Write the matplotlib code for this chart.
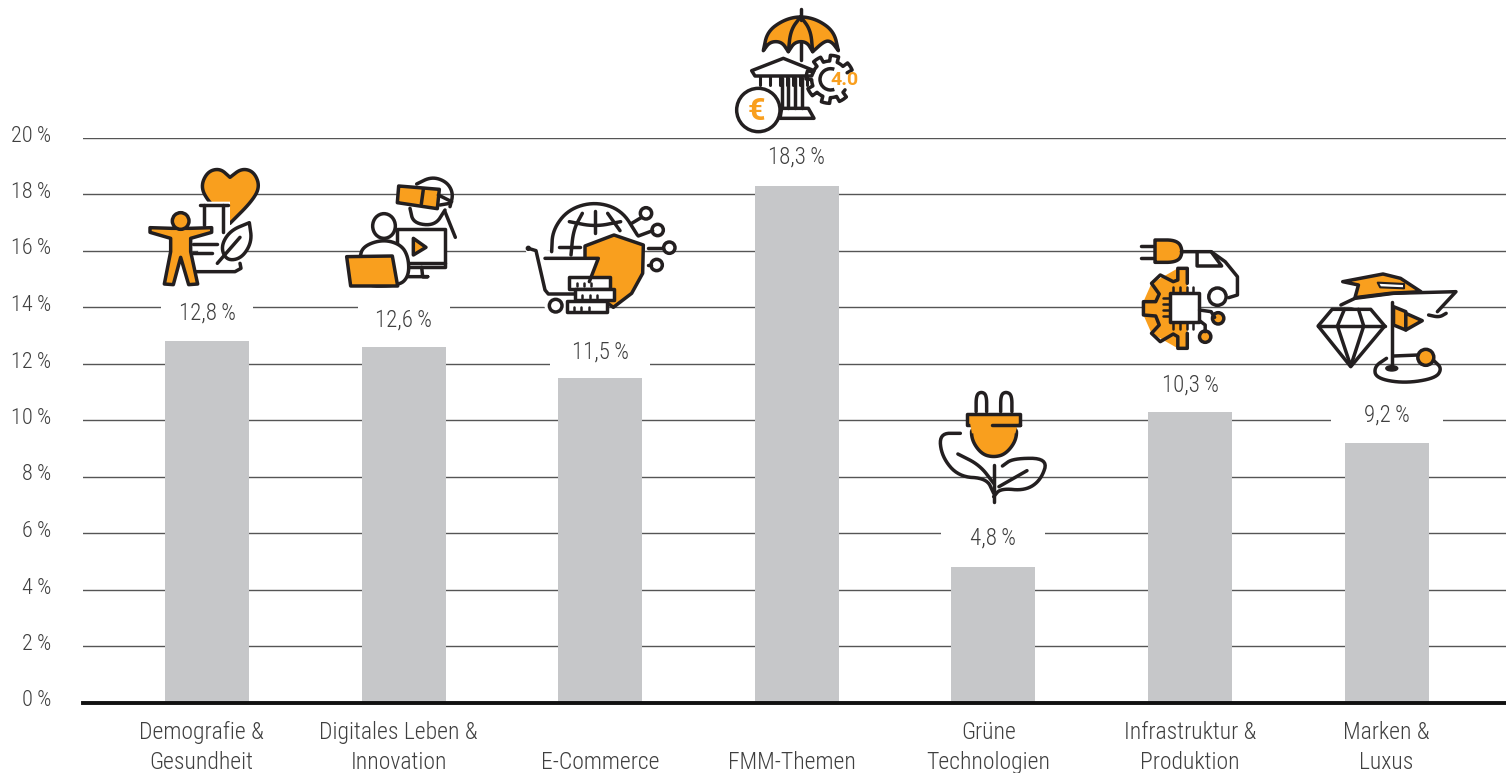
import numpy as np
import matplotlib
matplotlib.use("Agg")
import matplotlib.pyplot as plt
from matplotlib.patches import Polygon, Circle, Ellipse, Rectangle, Arc
from matplotlib.transforms import ScaledTranslation

categories = ["Demografie &\nGesundheit", "Digitales Leben &\nInnovation", "\nE-Commerce", "\nFMM-Themen",
              "Grüne\nTechnologien", "Infrastruktur &\nProduktion", "Marken &\nLuxus"]
values = [12.8, 12.6, 11.5, 18.3, 4.8, 10.3, 9.2]
value_labels = ["12,8\u2009%", "12,6\u2009%", "11,5\u2009%", "18,3\u2009%", "4,8\u2009%", "10,3\u2009%", "9,2\u2009%"]
y_ticks = [0, 2, 4, 6, 8, 10, 12, 14, 16, 18, 20]
y_tick_labels = [f"{t}\u2009%" for t in y_ticks]
label_shift = [0, -1, -2, 0, 1, -2, 0]   # px shift of the value labels
category_shift = [-6, -5, 0, -5, -5, 0, 0]   # px shift of the category labels
knockout_width = [92, 92, 100, 0, 104, 0, 112]

W, H = 1506, 773
STEP = 196.6
plt.rcParams["font.family"] = ["Roboto Condensed", "Roboto", "DejaVu Sans"]
plt.rcParams["font.weight"] = 300
TXT = "#3f3f3f"; DARK = "#231f20"; OR = "#f99f1e"; BAR = "#c6c7c9"; GRID = "#555555"

fig = plt.figure(figsize=(W / 100, H / 100), dpi=100)
ax = fig.add_axes([83 / W, 1 - 702.5 / H, (W - 83) / W, (702.5 - 137.5) / H])
ax.set_xlim(-124 / STEP, (W - 207) / STEP)
ax.set_ylim(0, 20)
ax.bar(range(len(values)), values, width=84 / STEP, color=BAR, zorder=3)
for s in ("top", "right", "left"):
    ax.spines[s].set_visible(False)
ax.spines["bottom"].set_linewidth(2.8)
ax.spines["bottom"].set_color("#111111")
ax.spines["bottom"].set_zorder(5)
ax.set_yticks(y_ticks, y_tick_labels, fontsize=16, color=TXT)
ax.set_xticks(range(len(values)), categories, fontsize=17, color=TXT, linespacing=1.42)
ax.tick_params(axis="both", length=0)
ax.tick_params(axis="y", pad=23)
ax.tick_params(axis="x", pad=13)
ax.grid(axis="y", color=GRID, lw=1.0, zorder=1)
ax.set_axisbelow(True)
for lab in ax.get_yticklabels():
    lab.set_transform(lab.get_transform() + ScaledTranslation(0, 4 / 100, fig.dpi_scale_trans))
for lab, sh in zip(ax.get_xticklabels(), category_shift):
    lab.set_transform(lab.get_transform() + ScaledTranslation(sh / 100, 0, fig.dpi_scale_trans))

# pixel overlay for the pictograms
ov = fig.add_axes([0, 0, 1, 1], facecolor="none")
ov.set_xlim(0, W); ov.set_ylim(H, 0); ov.axis("off")
ax.set_zorder(1); ov.set_zorder(2)


def smooth(pts, closed=False, n=3):
    p = np.asarray(pts, float)
    for _ in range(n):
        if closed:
            q = np.roll(p, -1, axis=0)
            p = np.column_stack([0.75 * p + 0.25 * q, 0.25 * p + 0.75 * q]).reshape(-1, 2)
        else:
            a, b = p[:-1], p[1:]
            mid = np.column_stack([0.75 * a + 0.25 * b, 0.25 * a + 0.75 * b]).reshape(-1, 2)
            p = np.vstack([p[0], mid, p[-1]])
    return p


class Z:
    """Draw in the coordinates of a zoomed crop."""
    def __init__(s, x0, y0, k=3.0, ky=3.0):
        s.x0, s.y0, s.k, s.ky = x0, y0, k, ky
    def T(s, pts):
        p = np.asarray(pts, float)
        return np.column_stack([s.x0 + p[:, 0] / s.k, s.y0 + p[:, 1] / s.ky])
    def shape(s, pts, fill="white", sm=False, lw=2.5):
        p = smooth(pts, True) if sm else pts
        ov.add_patch(Polygon(s.T(p), closed=True, fc=fill, ec=DARK, lw=lw, joinstyle="round"))
    def nofill(s, pts, fill, sm=False):
        p = smooth(pts, True) if sm else pts
        ov.add_patch(Polygon(s.T(p), closed=True, fc=fill, ec="none"))
    def line(s, pts, sm=False, lw=2.5, c=DARK):
        p = smooth(pts) if sm else pts
        q = s.T(p)
        ov.plot(q[:, 0], q[:, 1], color=c, lw=lw, solid_capstyle="round", solid_joinstyle="round")
    def circ(s, x, y, r, fill="white", lw=2.5):
        ov.add_patch(Circle((s.x0 + x / s.k, s.y0 + y / s.ky), r / s.ky, fc=fill, ec=DARK, lw=lw))
    def ell(s, x, y, rx, ry, fill="white", lw=2.5):
        ov.add_patch(Ellipse((s.x0 + x / s.k, s.y0 + y / s.ky), 2 * rx / s.k, 2 * ry / s.ky, fc=fill, ec=DARK, lw=lw))


# knock-outs around value labels, then the labels themselves
for i, (v, lab, sh, kw) in enumerate(zip(values, value_labels, label_shift, knockout_width)):
    ax.annotate(lab, (i, v), xytext=(0, (28 + sh) * 0.72), textcoords="offset points",
                ha="center", va="center", fontsize=16.5, color=TXT, zorder=6, annotation_clip=False)
    if kw:
        cy = 702.5 - v * 28.25 - 28 - sh
        ax.add_patch(Rectangle((207 + STEP * i - kw / 2, cy - 16), kw, 32, fc="white", ec="none", zorder=2,
                               transform=ov.transData, clip_on=False))

# ---- Demografie
a = Z(130, 160)
a.shape([(300, 190), (300, 190), (235, 125), (212, 80), (232, 35), (270, 25), (300, 52), (300, 52), (300, 52), (335, 25), (372, 35), (390, 80), (365, 125)], OR, True)
a.nofill([(205, 125), (300, 125), (300, 200), (345, 340), (195, 340), (215, 200)], "white")
a.line([(210, 135), (295, 135)])
a.line([(222, 135), (222, 195)]); a.line([(278, 135), (278, 215)])
a.line([(190, 252), (262, 252)]); a.line([(190, 280), (245, 280)])
a.line([(200, 335), (315, 335), (333, 325), (330, 310)])
a.shape([(358, 188), (358, 188), (300, 212), (272, 260), (290, 302), (335, 295), (366, 245)], "white", True)
a.line([(262, 310), (330, 232)])
a.shape([(60, 203), (125, 205), (180, 205), (245, 203), (245, 217), (182, 235), (182, 275), (203, 372), (176, 374),
         (152, 292), (130, 374), (103, 372), (122, 275), (122, 235), (60, 217)], OR)
a.circ(152, 183, 25, OR)

# ---- Digitales Leben
a.line([(860, 72), (905, 50), (950, 65), (970, 100), (960, 140)], True)
a.line([(945, 155), (976, 232)])
a.line([(840, 145), (850, 190), (915, 197), (945, 150)], True)
a.line([(925, 105), (965, 125)]); a.line([(930, 135), (960, 130)])
a.shape([(806, 78), (806, 78), (928, 88), (928, 88), (922, 146), (922, 146), (802, 128), (802, 128)], OR, True)
a.line([(880, 88), (874, 132)])
a.shape([(800, 207), (945, 207), (945, 320), (800, 320)], "white")
a.line([(840, 308), (945, 308)])
a.line([(875, 322), (878, 350), (893, 350), (835, 350)])
a.shape([(850, 235), (888, 262), (850, 285)], OR)
a.shape([(688, 295), (700, 258), (760, 238), (815, 255), (836, 295), (836, 350), (805, 378), (690, 378)], "white", True)
a.ell(762, 198, 34, 37)
a.shape([(650, 290), (787, 288), (803, 378), (662, 378)], OR)

# ---- E-Commerce
b = Z(510, 0)
b.nofill([(125, 755), (130, 690), (175, 630), (255, 608), (330, 630), (380, 700), (420, 900), (110, 940), (40, 730)], "white", False)
b.line([(125, 755), (128, 690), (175, 628), (255, 605), (335, 630), (382, 705)], True)
b.line([(178, 665), (255, 680), (332, 665)], True)
b.line([(255, 632), (255, 700)])
b.line([(217, 640), (190, 690), (183, 765)], True)
b.line([(293, 640), (330, 692)])
b.line([(148, 740), (210, 740)])
b.shape([(225, 738), (312, 705), (400, 735), (398, 820), (365, 880), (310, 922), (225, 860)], OR)
b.line([(55, 745), (78, 752), (105, 870), (115, 882), (195, 882)])
b.circ(55, 745, 6, DARK, 1)
b.nofill([(105, 775), (265, 775), (238, 845), (118, 845)], "white")
b.line([(105, 775), (265, 775), (238, 845)])
b.circ(137, 917, 19)
for x0, y0, x1, y1 in [(178, 830, 300, 867), (195, 866, 312, 900), (170, 902, 292, 936)]:
    b.shape([(x0, y0), (x1, y0), (x1, y1), (x0, y1)], "white")
    for k in range(3):
        tx = x0 + 22 + k * 22
        b.line([(tx, y0 + 18), (tx, y0 + 28)], lw=1.8)
for (cx, cy), seg in [((408, 640), [(365, 670), (395, 652)]), ((443, 690), [(385, 708), (428, 692)]),
                      ((478, 743), [(415, 743), (460, 743)])]:
    b.line(seg); b.circ(cx, cy, 17)
b.circ(440, 795, 17); b.line([(415, 795), (422, 795)])

# ---- FMM-Themen
b.line([(872, 28), (872, 60)])
b.shape([(760, 152), (760, 152), (772, 95), (820, 60), (872, 48), (925, 60), (972, 95), (985, 152), (985, 152),
         (965, 125), (945, 122), (908, 155), (908, 155), (890, 125), (855, 125), (835, 155), (835, 155),
         (815, 125), (780, 125)], OR, True)
b.line([(872, 50), (842, 90), (835, 155)], True); b.line([(872, 50), (902, 90), (908, 155)], True)
b.line([(872, 128), (872, 180)])
b.shape([(725, 212), (820, 175), (912, 212), (905, 228), (735, 228)], "white")
for x in (750, 780, 810, 830, 850, 870, 890):
    b.line([(x, 232), (x, 255)], lw=2.2)
for x in (815, 835, 855, 875):
    b.line([(x, 235), (x, 325)])
b.shape([(815, 325), (895, 325), (912, 355), (810, 355)], "white")
ang = np.radians(np.arange(35, 340, 2))
teeth = 55 + 17 * (np.sin(ang * 8) > 0)
b.line(np.column_stack([960 + teeth * np.cos(ang), 238 + teeth * np.sin(ang)])[::-1])
ov.add_patch(Arc((510 + 962 / 3, 238 / 3), 64 / 3, 64 / 3, theta1=70, theta2=290, ec=DARK, lw=2.5))
ov.text(510 + 1005 / 3, 240 / 3, "4.0", color=OR, fontsize=14, fontweight="bold", family=["Roboto"], ha="center", va="center")
b.circ(745, 330, 65)
ov.text(510 + 740 / 3, 333 / 3, "€", color=OR, fontsize=22, fontweight="bold", family=["Roboto"], ha="center", va="center")

# ---- Grüne Technologien
c = Z(920, 230, 1568 / 550, 3.0)
c.line([(160, 545), (160, 495), (175, 485), (190, 495), (190, 545)], True)
c.line([(230, 545), (230, 495), (245, 485), (262, 495), (262, 545)], True)
c.shape([(147, 585), (147, 630), (175, 672), (210, 682), (245, 672), (275, 630), (275, 585)], OR, True)
c.shape([(135, 552), (285, 552), (285, 585), (135, 585)], OR)
c.nofill([(142, 575), (280, 575), (272, 610), (148, 610)], OR)
c.line([(205, 586), (284, 586)])
c.line([(115, 610), (55, 610), (62, 680), (110, 740), (190, 745), (210, 790)], True)
c.line([(108, 672), (170, 705), (210, 760)], True)
c.line([(210, 705), (210, 815)])
c.line([(235, 708), (265, 685), (365, 685), (345, 750), (300, 782), (230, 775), (210, 800)], True)
c.line([(225, 770), (305, 722)])

# ---- Infrastruktur
c.shape([(670, 30), (670, 30), (735, 30), (750, 65), (735, 97), (670, 97), (670, 97)], OR, True)
c.line([(630, 47), (665, 47)]); c.line([(630, 85), (665, 85)])
c.line([(745, 65), (790, 65), (830, 65), (870, 95), (905, 140), (905, 195), (880, 203)])
c.line([(790, 65), (790, 108), (860, 108), (830, 65)])
c.circ(848, 200, 26)
c.nofill([(735, 115), (762, 115), (762, 355), (735, 355), (660, 310), (637, 255), (637, 215), (660, 160)], OR)
c.line([(762, 160), (762, 115), (735, 115), (735, 150), (722, 155), (685, 135), (660, 160), (682, 192), (672, 215),
        (637, 215), (637, 255), (672, 258), (682, 285), (660, 310), (685, 335), (722, 312), (735, 320), (735, 355),
        (762, 355), (762, 310)])
c.shape([(712, 190), (795, 190), (795, 275), (712, 275)], "white")
for k in range(4):
    c.line([(722 + k * 19, 172), (722 + k * 19, 188)], lw=1.8)
    c.line([(722 + k * 19, 278), (722 + k * 19, 296)], lw=1.8)
    c.line([(692, 205 + k * 18), (710, 205 + k * 18)], lw=1.8)
c.line([(797, 240), (830, 245), (840, 262)]); c.circ(850, 265, 17, OR)
c.line([(797, 272), (813, 285), (813, 305)]); c.circ(813, 320, 17, OR)

# ---- Marken
c.shape([(1205, 155), (1320, 132), (1370, 145), (1428, 185), (1340, 190), (1240, 203), (1250, 165)], OR)
c.shape([(1305, 158), (1380, 162), (1380, 175), (1312, 172)], "white", lw=1.5)
c.nofill([(1205, 222), (1528, 187), (1475, 245), (1340, 270)], "white")
c.line([(1200, 225), (1240, 205), (1350, 190), (1528, 185), (1475, 245)])
c.line([(1450, 255), (1480, 262), (1500, 250)], True)
c.shape([(1135, 288), (1175, 238), (1285, 238), (1325, 288), (1228, 410)], "white")
c.line([(1135, 288), (1325, 288)])
c.line([(1210, 238), (1190, 288), (1228, 408), (1265, 288), (1250, 238)])
c.line([(1345, 215), (1345, 410)])
c.shape([(1350, 230), (1385, 245), (1385, 300), (1350, 285)], OR)
c.shape([(1385, 250), (1432, 272), (1385, 300)], OR)
c.line([(1330, 385), (1295, 410), (1300, 445), (1380, 460), (1470, 445), (1488, 415), (1465, 392)], True)
c.line([(1350, 378), (1420, 375)])
c.ell(1345, 415, 17, 8, DARK, 1)
c.circ(1442, 382, 24, OR)

fig.savefig("out.png", dpi=100)
